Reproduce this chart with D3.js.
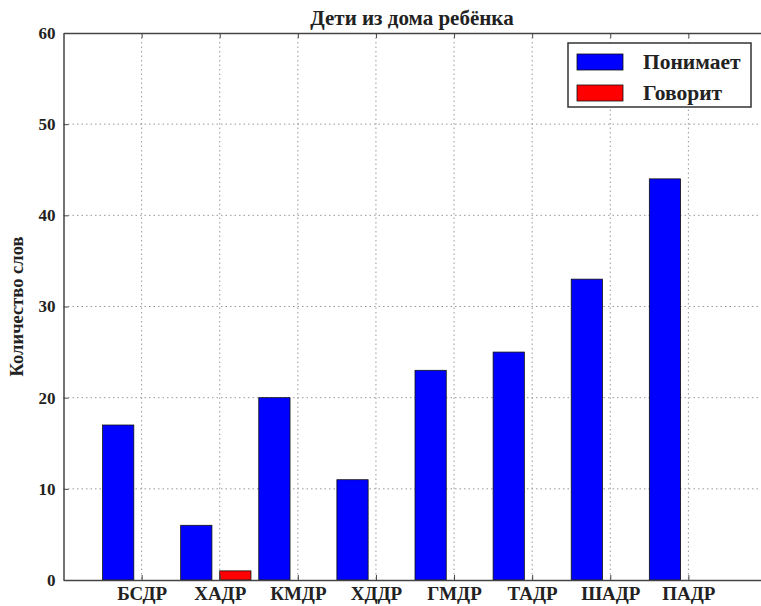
<!DOCTYPE html>
<html lang="ru">
<head>
<meta charset="UTF-8">
<title>Дети из дома ребёнка</title>
<style>
  body { margin: 0; background: #fff; }
  text { font-family: "Liberation Serif", "DejaVu Serif", serif; font-weight: bold; fill: #222; }
</style>
</head>
<body>
<svg id="chart"></svg>
<script src="https://d3js.org/d3.v7.min.js"></script>
<script>
// данные
const categories = ['БСДР', 'ХАДР', 'КМДР', 'ХДДР', 'ГМДР', 'ТАДР', 'ШАДР', 'ПАДР'];
const understands = [17, 6, 20, 11, 23, 25, 33, 44];
const speaks = [0, 1, 0, 0, 0, 0, 0, 0];
const yTicks = [0, 10, 20, 30, 40, 50, 60];
const seriesNames = ['Понимает', 'Говорит'];
const seriesColors = ['#0000ff', '#ff0000'];

const width = 761, height = 606;
const margin = { top: 33, left: 63.5, bottom: 26, right: -5.5 };

const svg = d3.select('#chart').attr('width', width).attr('height', height);

// x в единицах индекса категории
const x = d3.scaleLinear()
    .domain([-1, categories.length])
    .range([margin.left, width - margin.right]);
const y = d3.scaleLinear()
    .domain([0, 60])
    .range([height - margin.bottom, margin.top]);

const barW = 0.4;

// сетка
const grid = svg.append('g').attr('stroke', '#999').attr('stroke-dasharray', '1.5,3').attr('stroke-width', 1);
grid.selectAll('line.v')
    .data(categories.map((c, i) => i))
    .join('line')
    .attr('x1', d => x(d)).attr('x2', d => x(d))
    .attr('y1', y(60)).attr('y2', y(0));
grid.selectAll('line.h')
    .data(yTicks.slice(1, -1))
    .join('line')
    .attr('x1', x(-1)).attr('x2', x(categories.length))
    .attr('y1', d => y(d)).attr('y2', d => y(d));

// столбцы
svg.append('g')
    .selectAll('rect')
    .data(understands)
    .join('rect')
    .attr('x', (d, i) => x(i - 0.5))
    .attr('y', d => y(d))
    .attr('width', x(barW) - x(0))
    .attr('height', d => y(0) - y(d))
    .attr('fill', seriesColors[0])
    .attr('stroke', '#111').attr('stroke-width', 0.8);

svg.append('g')
    .selectAll('rect')
    .data(speaks)
    .join('rect')
    .attr('x', (d, i) => x(i))
    .attr('y', d => y(d))
    .attr('width', x(barW) - x(0))
    .attr('height', d => y(0) - y(d))
    .attr('fill', seriesColors[1])
    .attr('stroke', '#111').attr('stroke-width', 0.8);

// оси
const xAxis = d3.axisBottom(x)
    .tickValues(categories.map((c, i) => i))
    .tickFormat(i => categories[i])
    .tickSizeInner(-5).tickSizeOuter(0).tickPadding(0);
const xAxisTop = d3.axisTop(x)
    .tickValues(categories.map((c, i) => i))
    .tickFormat('')
    .tickSizeInner(-5).tickSizeOuter(0);
const yAxis = d3.axisLeft(y)
    .tickValues(yTicks)
    .tickSizeInner(-5).tickSizeOuter(0).tickPadding(8);

const gx = svg.append('g')
    .attr('transform', `translate(0,${y(0)})`)
    .call(xAxis);
const gxt = svg.append('g')
    .attr('transform', `translate(0,${y(60)})`)
    .call(xAxisTop);
const gy = svg.append('g')
    .attr('transform', `translate(${x(-1)},0)`)
    .call(yAxis);
[gx, gxt, gy].forEach(g => {
    g.select('.domain').attr('stroke', '#444').attr('stroke-width', 1.5);
    g.selectAll('.tick line').attr('stroke', '#444');
    g.selectAll('.tick text').style('font-family', '"Liberation Serif", serif').style('font-weight', 'bold').attr('fill', '#222');
});
gy.selectAll('.tick text').attr('font-size', 17);
gx.selectAll('.tick text').attr('font-size', 19).attr('y', 20).attr('dy', 0);

// заголовок
svg.append('text')
    .attr('x', (x(-1) + x(categories.length)) / 2 - 3)
    .attr('y', 25)
    .attr('text-anchor', 'middle')
    .attr('font-size', 21)
    .text('Дети из дома ребёнка');

// подпись оси Y
svg.append('text')
    .attr('transform', `translate(23,${(y(0) + y(60)) / 2}) rotate(-90)`)
    .attr('text-anchor', 'middle')
    .attr('font-size', 18.5)
    .text('Количество слов');

// легенда
const legend = svg.append('g').attr('transform', 'translate(568,43)');
legend.append('rect')
    .attr('width', 183).attr('height', 64)
    .attr('fill', '#fff').attr('stroke', '#333').attr('stroke-width', 1.5);
seriesNames.forEach((name, i) => {
    legend.append('rect')
        .attr('x', 9).attr('y', 11 + i * 31)
        .attr('width', 46).attr('height', 16)
        .attr('fill', seriesColors[i]).attr('stroke', '#111').attr('stroke-width', 0.8);
    legend.append('text')
        .attr('x', 75).attr('y', 26 + i * 31)
        .attr('font-size', 21.5)
        .text(name);
});
</script>
</body>
</html>
